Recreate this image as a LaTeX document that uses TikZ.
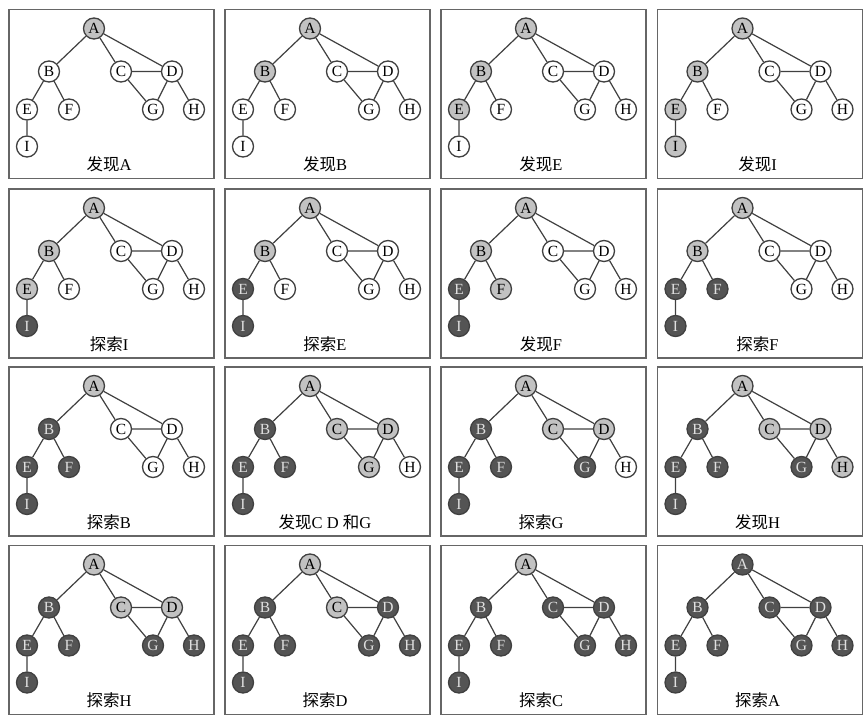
\documentclass[tikz,border=0pt]{standalone}
\usepackage{fontspec}
\setmainfont{Liberation Serif}
\newfontfamily\cjk{Noto Sans CJK SC}
\definecolor{gfill}{gray}{0.76}
\definecolor{kfill}{gray}{0.33}
\definecolor{lnc}{gray}{0.25}
\definecolor{frc}{gray}{0.4}
\tikzset{
  vbase/.style={circle,draw=lnc,line width=1.3pt,minimum size=21pt,inner sep=0pt,font=\fontsize{15.5}{16}\selectfont},
  wv/.style={vbase,fill=white,text=black},
  gv/.style={vbase,fill=gfill,text=black},
  kv/.style={vbase,fill=kfill,text=gray!25},
  sA/.style=wv,sB/.style=wv,sC/.style=wv,sD/.style=wv,sE/.style=wv,
  sF/.style=wv,sG/.style=wv,sH/.style=wv,sI/.style=wv,
  edge/.style={draw=lnc,line width=1.2pt},
  frame/.style={draw=frc,line width=1.8pt,fill=white,rectangle,minimum width=205pt,minimum height=169pt,inner sep=0pt},
  lbl/.style={font=\fontsize{16.5}{18}\selectfont,inner sep=0pt}
}
\newcommand\gpanel[5]{%
 \begin{scope}[shift={(#1,#2)},#5]
  \node[frame,anchor=north west] (#3frame) at (0,0) {};
  \node[sA] (#3A) at (86,20) {A};
  \node[sB] (#3B) at (41,63) {B};
  \node[sC] (#3C) at (113,63) {C};
  \node[sD] (#3D) at (164,63) {D};
  \node[sE] (#3E) at (19,101) {E};
  \node[sF] (#3F) at (61,101) {F};
  \node[sG] (#3G) at (145,101) {G};
  \node[sH] (#3H) at (186,101) {H};
  \node[sI] (#3I) at (19,138) {I};
  \draw[edge] (#3A)--(#3B) (#3A)--(#3C) (#3A)--(#3D) (#3B)--(#3E) (#3B)--(#3F)
    (#3E)--(#3I) (#3C)--(#3D) (#3C)--(#3G) (#3D)--(#3G) (#3D)--(#3H);
  \node[lbl] (#3L) at (101,156) {#4};
 \end{scope}}
\begin{document}
\begin{tikzpicture}[x=1pt,y=-1pt]
\useasboundingbox[fill=white] (0,0) rectangle (867,720);
% row 1
\gpanel{8}{8.5}{p1}{{\cjk 发现}A}{sA/.style=gv}
\gpanel{224}{8.5}{p2}{{\cjk 发现}B}{sA/.style=gv,sB/.style=gv}
\gpanel{440}{8.5}{p3}{{\cjk 发现}E}{sA/.style=gv,sB/.style=gv,sE/.style=gv}
\gpanel{656.5}{8.5}{p4}{{\cjk 发现}I}{sA/.style=gv,sB/.style=gv,sE/.style=gv,sI/.style=gv}
% row 2
\gpanel{8}{188}{p5}{{\cjk 探索}I}{sA/.style=gv,sB/.style=gv,sE/.style=gv,sI/.style=kv}
\gpanel{224}{188}{p6}{{\cjk 探索}E}{sA/.style=gv,sB/.style=gv,sE/.style=kv,sI/.style=kv}
\gpanel{440}{188}{p7}{{\cjk 发现}F}{sA/.style=gv,sB/.style=gv,sE/.style=kv,sI/.style=kv,sF/.style=gv}
\gpanel{656.5}{188}{p8}{{\cjk 探索}F}{sA/.style=gv,sB/.style=gv,sE/.style=kv,sI/.style=kv,sF/.style=kv}
% row 3
\gpanel{8}{366}{p9}{{\cjk 探索}B}{sA/.style=gv,sB/.style=kv,sE/.style=kv,sI/.style=kv,sF/.style=kv}
\gpanel{224}{366}{p10}{{\cjk 发现}C D {\cjk 和}G}{sA/.style=gv,sB/.style=kv,sE/.style=kv,sI/.style=kv,sF/.style=kv,sC/.style=gv,sD/.style=gv,sG/.style=gv}
\gpanel{440}{366}{p11}{{\cjk 探索}G}{sA/.style=gv,sB/.style=kv,sE/.style=kv,sI/.style=kv,sF/.style=kv,sC/.style=gv,sD/.style=gv,sG/.style=kv}
\gpanel{656.5}{366}{p12}{{\cjk 发现}H}{sA/.style=gv,sB/.style=kv,sE/.style=kv,sI/.style=kv,sF/.style=kv,sC/.style=gv,sD/.style=gv,sG/.style=kv,sH/.style=gv}
% row 4
\gpanel{8}{544.5}{p13}{{\cjk 探索}H}{sA/.style=gv,sB/.style=kv,sE/.style=kv,sI/.style=kv,sF/.style=kv,sC/.style=gv,sD/.style=gv,sG/.style=kv,sH/.style=kv}
\gpanel{224}{544.5}{p14}{{\cjk 探索}D}{sA/.style=gv,sB/.style=kv,sE/.style=kv,sI/.style=kv,sF/.style=kv,sC/.style=gv,sD/.style=kv,sG/.style=kv,sH/.style=kv}
\gpanel{440}{544.5}{p15}{{\cjk 探索}C}{sA/.style=gv,sB/.style=kv,sE/.style=kv,sI/.style=kv,sF/.style=kv,sC/.style=kv,sD/.style=kv,sG/.style=kv,sH/.style=kv}
\gpanel{656.5}{544.5}{p16}{{\cjk 探索}A}{sA/.style=kv,sB/.style=kv,sE/.style=kv,sI/.style=kv,sF/.style=kv,sC/.style=kv,sD/.style=kv,sG/.style=kv,sH/.style=kv}
\end{tikzpicture}
\end{document}
